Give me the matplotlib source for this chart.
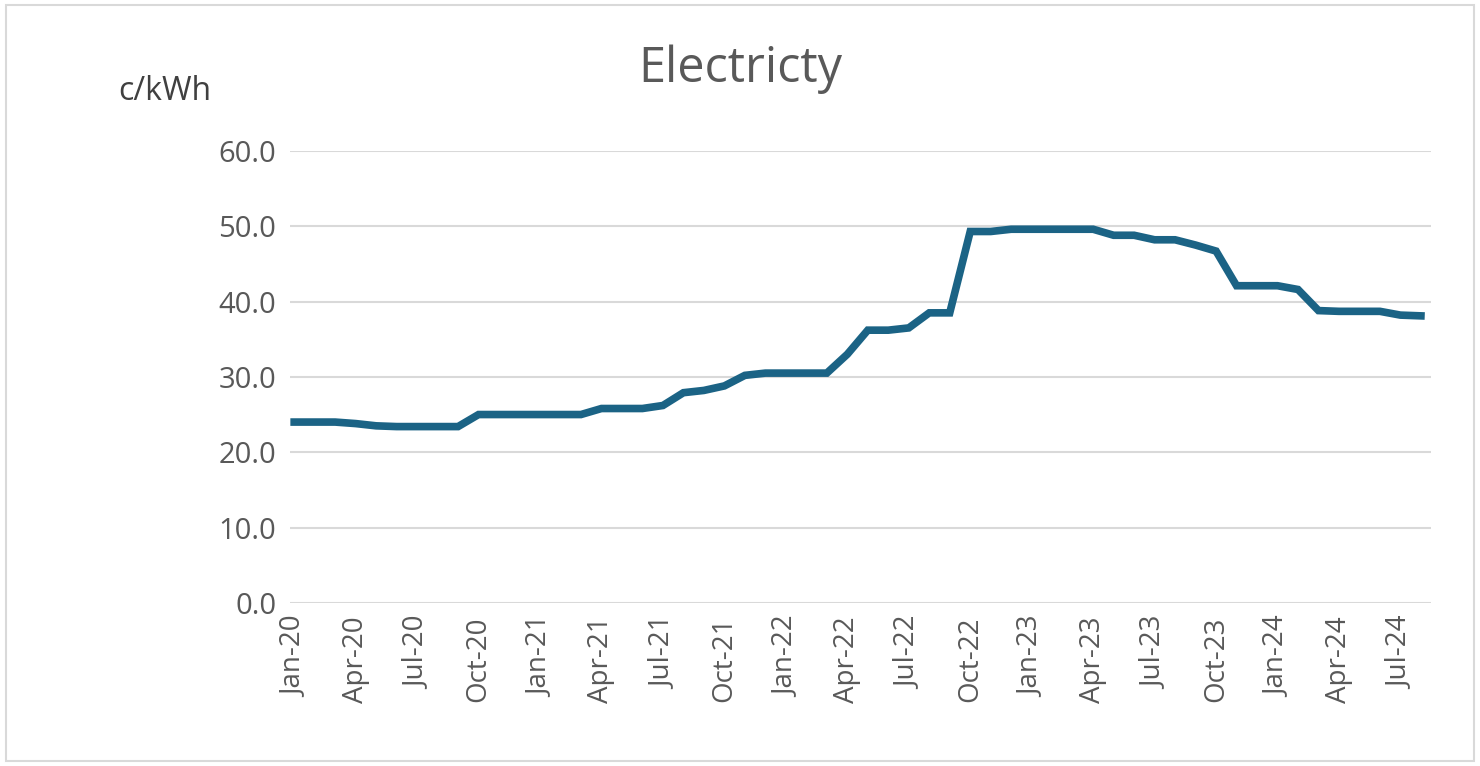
import matplotlib
matplotlib.use("Agg")
import matplotlib.pyplot as plt
from matplotlib.patches import Rectangle

months = ["Jan", "Feb", "Mar", "Apr", "May", "Jun", "Jul", "Aug", "Sep", "Oct", "Nov", "Dec"]
labels = [f"{m}-{y}" for y in range(20, 25) for m in months][:56]
values = [
    24.0, 24.0, 24.0, 23.8, 23.5, 23.4, 23.4, 23.4, 23.4, 25.0, 25.0, 25.0,
    25.0, 25.0, 25.0, 25.8, 25.8, 25.8, 26.2, 27.9, 28.2, 28.8, 30.2, 30.5,
    30.5, 30.5, 30.5, 33.0, 36.2, 36.2, 36.5, 38.5, 38.5, 49.3, 49.3, 49.6,
    49.6, 49.6, 49.6, 49.6, 48.8, 48.8, 48.2, 48.2, 47.5, 46.7, 42.1, 42.1,
    42.1, 41.6, 38.8, 38.7, 38.7, 38.7, 38.2, 38.1,
]

plt.rcParams["font.family"] = ["Open Sans", "DejaVu Sans"]
fig = plt.figure(figsize=(14.8, 7.66), dpi=100)
ax = fig.add_axes([0.196, 0.213, 0.771, 0.59])

x = list(range(len(values)))
ax.plot(x, values, color="#1B6385", linewidth=5.5, solid_joinstyle="miter")

ax.set_ylim(0, 60)
ax.set_yticks(range(0, 61, 10))
ax.set_yticklabels([f"{v:.1f}" for v in range(0, 61, 10)], fontsize=21, color="#595959")
ax.set_xlim(-0.2, 55.5)
ax.set_xticks(x[::3])
ax.set_xticklabels(labels[::3], rotation=90, fontsize=20, color="#595959")
ax.tick_params(axis="y", length=0, pad=10)
ax.tick_params(axis="x", length=0, pad=10)
ax.grid(axis="y", color="#d9d9d9", linewidth=1.5)
ax.set_axisbelow(True)
for s in ax.spines.values():
    s.set_visible(False)

fig.text(0.5, 0.91, "Electricty", ha="center", va="center", fontsize=35, color="#595959")
fig.text(0.08, 0.88, "c/kWh", ha="left", va="center", fontsize=23, color="#404040")
fig.patches.append(Rectangle((0.004, 0.006), 0.992, 0.988, transform=fig.transFigure,
                             fill=False, edgecolor="#d9d9d9", linewidth=1.5))

fig.savefig("out.png", dpi=100)
